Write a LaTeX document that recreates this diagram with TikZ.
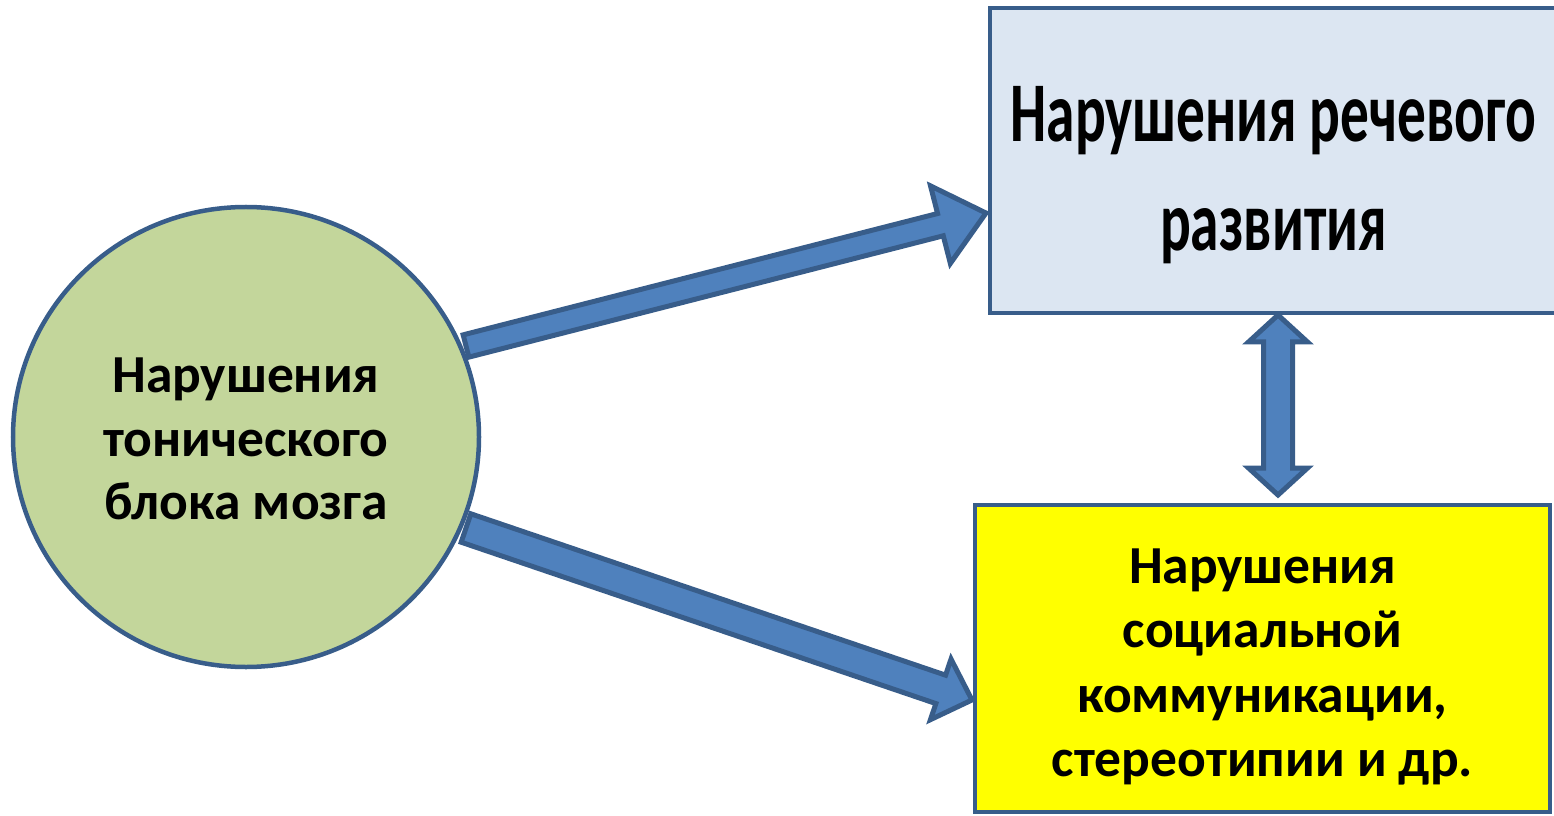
\documentclass[tikz,border=0pt]{standalone}
\usepackage{fontspec}
\usepackage{graphicx}
\setmainfont{Carlito}
\usetikzlibrary{shapes.geometric,calc}
\definecolor{bord}{HTML}{385D8A}
\definecolor{arrfill}{HTML}{4F81BD}
\definecolor{circfill}{HTML}{C3D69B}
\definecolor{boxblue}{HTML}{DCE6F2}
\definecolor{boxyellow}{HTML}{FFFF00}
\tikzset{
  blockarrow/.style={draw=bord, fill=arrfill, line width=5pt, line join=miter},
  circnode/.style={ellipse, draw=bord, fill=circfill, line width=4.5pt, minimum width=466pt, minimum height=460pt, inner sep=0pt},
  boxnode/.style={rectangle, draw=bord, line width=4.5pt, inner sep=0pt},
  bodytext/.style={font=\bfseries\fontsize{53.5}{63.5}\selectfont, align=center, inner sep=0pt},
  boxtext/.style={font=\bfseries\fontsize{53.5}{64.5}\selectfont, align=center, inner sep=0pt},
  bigtext/.style={font=\bfseries\fontsize{85}{109}\selectfont, align=center, inner sep=0pt},
}
\newcommand\myblockarrow[5]{%
  \draw[blockarrow] let \p1=(#1), \p2=(#2), \n1={atan2(\y2-\y1,\x2-\x1)}, \n2={veclen(\x2-\x1,\y2-\y1)} in
    [shift={(\p1)}, rotate=\n1] (0,-#3) -- ({\n2-#5},-#3) -- ({\n2-#5},-#4) -- (\n2,0) -- ({\n2-#5},#4) -- ({\n2-#5},#3) -- (0,#3) -- cycle;}
\newcommand\mydoublearrow[5]{%
  \draw[blockarrow] let \p1=(#1), \p2=(#2), \n1={atan2(\y2-\y1,\x2-\x1)}, \n2={veclen(\x2-\x1,\y2-\y1)} in
    [shift={(\p1)}, rotate=\n1] (0,0) -- (#5,-#4) -- (#5,-#3) -- ({\n2-#5},-#3) -- ({\n2-#5},-#4) -- (\n2,0) -- ({\n2-#5},#4) -- ({\n2-#5},#3) -- (#5,#3) -- (#5,#4) -- cycle;}
\begin{document}
\begin{tikzpicture}[x=1pt,y=1pt]
\useasboundingbox (0,0) rectangle (1554,815);
% circle
\node[circnode] (circ) at (246,378) {};
\node[bodytext] (circtxt) at (246,376) {Нарушения\\тонического\\блока мозга};
% top box
\node[boxnode, fill=boxblue, minimum width=572pt, minimum height=305pt] (speech) at (1276,654.5) {};
\node[bigtext] (speechtxt) at (1273.5,640)
  {\scalebox{0.675}[1]{Нарушения речевого}\\\scalebox{0.675}[1]{развития}};
% bottom box
\node[boxnode, fill=boxyellow, minimum width=575pt, minimum height=307pt] (social) at (1262.5,156.5) {};
\node[boxtext] (socialtxt) at (1262.5,148)
  {Нарушения\\социальной\\коммуникации,\\стереотипии и др.};
% arrow end points
\coordinate (a1s) at (466,469);
\coordinate (a1e) at (986,602);
\coordinate (a2s) at (466,287);
\coordinate (a2e) at (972,115);
\coordinate (d1) at (1278,320);
\coordinate (d2) at (1278,500);
\myblockarrow{a1s}{a1e}{11.5}{40}{47}
\myblockarrow{a2s}{a2e}{15}{32}{33}
\mydoublearrow{d1}{d2}{14.5}{29.5}{27}
\end{tikzpicture}
\end{document}
